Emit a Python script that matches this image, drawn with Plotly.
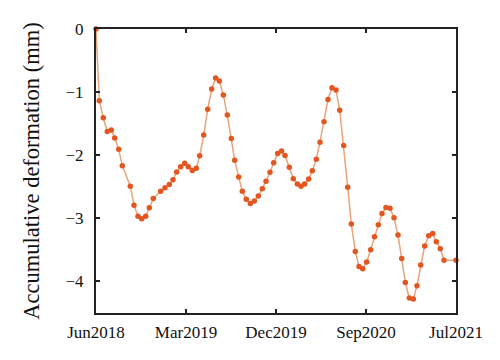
import plotly.graph_objects as go

months = [0, 0.33, 0.73, 1.13, 1.53, 1.87, 2.27, 2.63, 3.43, 3.8, 4.2, 4.57, 4.97, 5.33, 5.73,
          6.47, 6.9, 7.33, 7.7, 8.07, 8.47, 8.87, 9.23, 9.63, 10.03, 10.37, 10.77, 11.17, 11.57,
          11.97, 12.33, 12.73, 13.13, 13.53, 13.87, 14.27, 14.63, 15.03, 15.43, 15.83, 16.23,
          16.63, 17.0, 17.4, 17.77, 18.17, 18.55, 18.9, 19.33, 19.73, 20.13, 20.5, 20.87, 21.27,
          21.63, 22.03, 22.4, 22.8, 23.2, 23.6, 24.0, 24.37, 24.77, 25.17, 25.53, 25.93, 26.3,
          26.67, 27.07, 27.47, 27.85, 28.23, 28.6, 29.0, 29.4, 29.8, 30.2, 30.57, 30.93, 31.33,
          31.73, 32.1, 32.47, 32.87, 33.27, 33.67, 34.03, 34.43, 34.8, 36.0]
deformation = [0, -1.137, -1.406, -1.623, -1.602, -1.726, -1.907, -2.165, -2.491, -2.791, -2.966,
               -3.008, -2.966, -2.832, -2.687, -2.569, -2.517, -2.465, -2.388, -2.264, -2.181,
               -2.129, -2.181, -2.243, -2.207, -2.010, -1.680, -1.271, -0.951, -0.775, -0.822,
               -1.044, -1.364, -1.736, -2.078, -2.346, -2.569, -2.698, -2.765, -2.724, -2.646,
               -2.532, -2.413, -2.269, -2.119, -1.974, -1.933, -2.005, -2.191, -2.372, -2.455,
               -2.491, -2.455, -2.377, -2.248, -2.062, -1.793, -1.468, -1.116, -0.930, -0.966,
               -1.287, -1.845, -2.506, -3.090, -3.525, -3.762, -3.798, -3.690, -3.499, -3.292,
               -3.101, -2.925, -2.827, -2.842, -2.992, -3.266, -3.638, -4.016, -4.264, -4.279,
               -4.067, -3.741, -3.437, -3.277, -3.240, -3.370, -3.483, -3.664, -3.664]

x_tick_pos = [0, 9, 18, 27, 36]
x_tick_labels = ["Jun2018", "Mar2019", "Dec2019", "Sep2020", "Jul2021"]
y_tick_pos = [0, -1, -2, -3, -4]

fig = go.Figure(go.Scatter(
    x=months, y=deformation, mode="lines+markers",
    line=dict(color="#E8A47A", width=1.5),
    marker=dict(color="#E4561F", size=5.5),
    cliponaxis=False,
))

font_family = "Liberation Serif"
fig.update_layout(
    width=500, height=360,
    margin=dict(l=88, r=52, t=16, b=55),
    paper_bgcolor="white", plot_bgcolor="white",
    showlegend=False,
    font=dict(family=font_family, size=17, color="#111"),
)
fig.update_xaxes(
    range=[0, 36], tickvals=x_tick_pos, ticktext=x_tick_labels,
    ticks="inside", ticklen=4, tickwidth=1.5, tickcolor="#222",
    showline=True, linecolor="#222", linewidth=2, mirror="ticks",
    showgrid=False, zeroline=False, ticklabelstandoff=3,
)
fig.update_yaxes(
    range=[-4.5, 0], tickvals=y_tick_pos,
    ticks="inside", ticklen=4, tickwidth=1.5, tickcolor="#222",
    showline=True, linecolor="#222", linewidth=2, mirror="ticks",
    showgrid=False, zeroline=False, ticklabelstandoff=7,
    title=dict(text="Accumulative deformation (mm)", font=dict(size=22.5), standoff=20),
)

fig.write_html("out.html")
